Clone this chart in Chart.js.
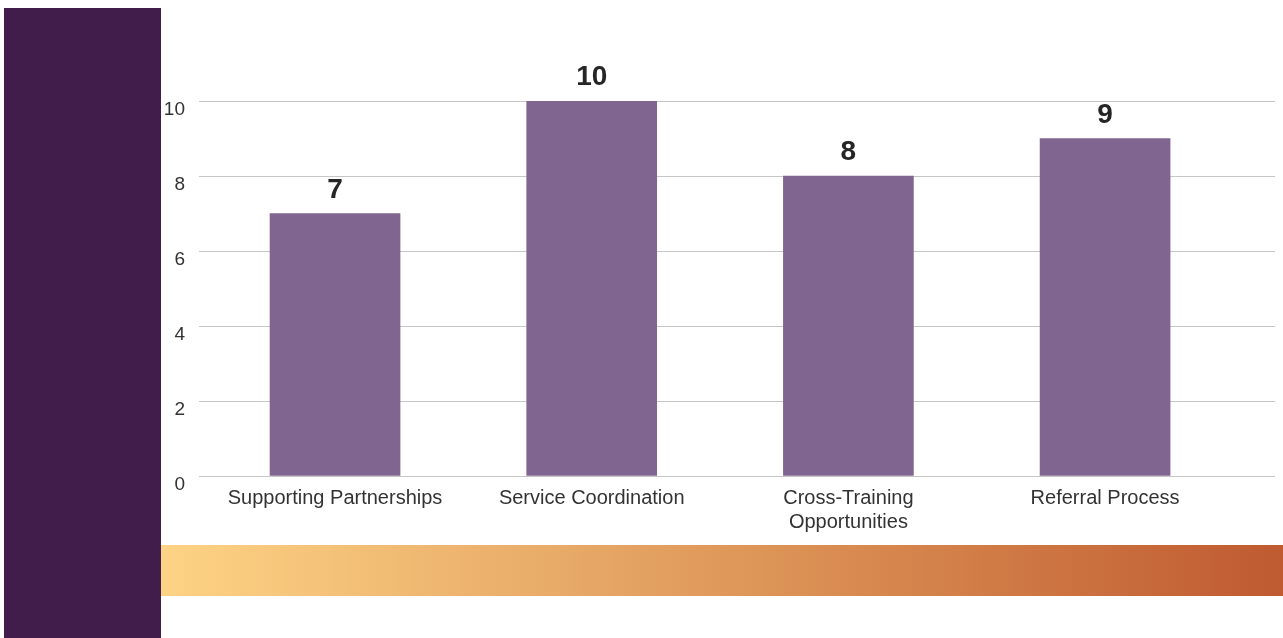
<!DOCTYPE html>
<html>
<head>
<meta charset="utf-8">
<script src="https://cdn.jsdelivr.net/npm/chart.js@4.4.1/dist/chart.umd.min.js"></script>
<style>
  html,body{margin:0;padding:0;background:#fff;width:1283px;height:638px;overflow:hidden;}
  #side{position:absolute;left:4px;top:8px;width:157px;height:630px;background:#401d4b;}
  #band{position:absolute;left:161px;top:545px;width:1122px;height:51px;
        background:linear-gradient(to right,#fdd385 0%,#e8ab68 35%,#d88a50 62%,#bf5a31 100%);}
  #wrap{position:absolute;left:161px;top:0;width:1122px;height:545px;}
</style>
</head>
<body>
<div id="side"></div>
<div id="band"></div>
<div id="wrap"><canvas id="c"></canvas></div>
<script>
var categories = ['Supporting Partnerships', 'Service Coordination', ['Cross-Training', 'Opportunities'], 'Referral Process'];
var values = [7, 10, 8, 9];
var yTicks = [0, 2, 4, 6, 8, 10];

var valueLabels = {
  id: 'valueLabels',
  afterDatasetsDraw: function(chart){
    var ctx = chart.ctx;
    var meta = chart.getDatasetMeta(0);
    ctx.save();
    ctx.font = 'bold 28px "Liberation Sans", Arial, sans-serif';
    ctx.fillStyle = '#262626';
    ctx.textAlign = 'center';
    ctx.textBaseline = 'alphabetic';
    meta.data.forEach(function(bar, i){
      ctx.fillText(String(values[i]), bar.x, bar.y - 16);
    });
    ctx.restore();
  }
};

new Chart(document.getElementById('c').getContext('2d'), {
  type: 'bar',
  data: {
    datasets: [{
      data: values.map(function(v, i){ return {x: i, y: v}; }),
      backgroundColor: '#7f6590',
      barThickness: 130
    }]
  },
  options: {
    responsive: true,
    maintainAspectRatio: false,
    animation: false,
    layout: {padding: {top: 101, right: 8, left: 0, bottom: 0}},
    plugins: {legend: {display: false}, tooltip: {enabled: false}},
    scales: {
      x: {
        type: 'linear',
        offset: false,
        min: -0.53,
        max: 3.662,
        grid: {display: false},
        border: {display: false},
        afterBuildTicks: function(s){ s.ticks = categories.map(function(c, i){ return {value: i}; }); },
        afterFit: function(s){ s.height = 69; },
        ticks: {
          autoSkip: false,
          maxRotation: 0,
          padding: 2,
          color: '#333333',
          font: {family: '"Liberation Sans", Arial, sans-serif', size: 20, lineHeight: 1.2},
          callback: function(v){ return categories[v]; }
        }
      },
      y: {
        min: 0,
        max: 10,
        afterBuildTicks: function(s){ s.ticks = yTicks.map(function(v){ return {value: v}; }); },
        afterFit: function(s){ s.width = 38; },
        grid: {color: '#c6c6c6', lineWidth: 1, drawTicks: false},
        border: {display: false},
        ticks: {
          padding: 14,
          labelOffset: 9,
          color: '#333333',
          font: {family: '"Liberation Sans", Arial, sans-serif', size: 19}
        }
      }
    }
  },
  plugins: [valueLabels]
});
</script>
</body>
</html>
